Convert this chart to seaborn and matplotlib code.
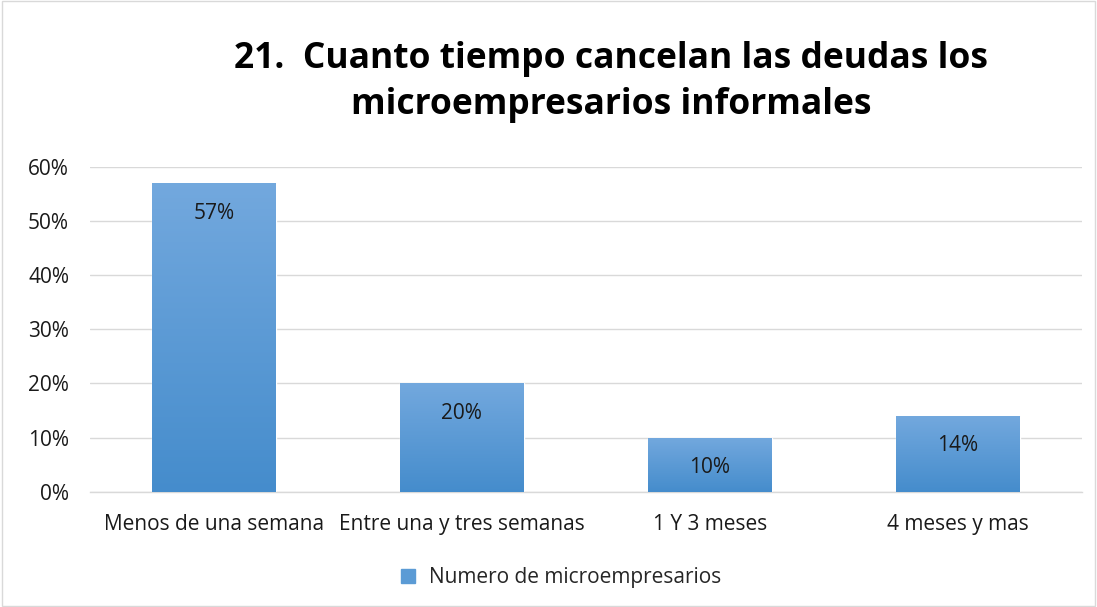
import matplotlib
matplotlib.use("Agg")
import matplotlib.pyplot as plt
import seaborn as sns
import numpy as np
import pandas as pd
from matplotlib.patches import Rectangle
from matplotlib.lines import Line2D
from matplotlib.colors import LinearSegmentedColormap

categories = ["Menos de una semana", "Entre una y tres semanas", "1 Y 3 meses", "4 meses y mas"]
values = [0.57, 0.20, 0.10, 0.14]
value_labels = ["57%", "20%", "10%", "14%"]
yticks = [0, 0.1, 0.2, 0.3, 0.4, 0.5, 0.6]
ytick_labels = ["0%", "10%", "20%", "30%", "40%", "50%", "60%"]
series_name = "Numero de microempresarios"
title = "21.  Cuanto tiempo cancelan las deudas los\nmicroempresarios informales"

sns.set_theme(style="white")
plt.rcParams['font.family'] = ['Open Sans', 'DejaVu Sans']

fig = plt.figure(figsize=(10.97, 6.07), dpi=100)
ax = fig.add_axes([0.082, 0.19, 0.904, 0.535])

df = pd.DataFrame({"cat": categories, "val": values})
sns.barplot(data=df, x="cat", y="val", ax=ax, width=0.5, color="#5B9BD5", saturation=1)

top_c = (0.45, 0.66, 0.87)
bot_c = (0.27, 0.55, 0.80)
cmap = LinearSegmentedColormap.from_list("g", [bot_c, top_c])
grad = np.linspace(0, 1, 256).reshape(-1, 1)
for p in ax.patches:
    x0, w, h = p.get_x(), p.get_width(), p.get_height()
    im = ax.imshow(grad, cmap=cmap, origin="lower", aspect="auto",
                   extent=[x0, x0 + w, 0, h], zorder=3)
    im.set_clip_path(p)
    p.set_zorder(2)

for i, (v, lab) in enumerate(zip(values, value_labels)):
    ax.annotate(lab, (i, v), xytext=(0, -30), textcoords="offset pixels",
                ha="center", va="center", fontsize=15, color="#1a1a1a", zorder=5)

ax.set_xlim(-0.5, 3.5)
ax.set_ylim(0, 0.6)
ax.set_yticks(yticks)
ax.set_yticklabels(ytick_labels, fontsize=15, color="#1a1a1a")
ax.set_xticks(range(len(categories)))
ax.set_xticklabels(categories, fontsize=15, color="#1a1a1a")
ax.tick_params(axis="x", pad=16, length=0)
ax.tick_params(axis="y", pad=15, length=0)
ax.set_xlabel("")
ax.set_ylabel("")
ax.yaxis.grid(True, color="#D9D9D9", linewidth=1)
ax.set_axisbelow(True)
for s in ["top", "right", "left"]:
    ax.spines[s].set_visible(False)
ax.spines["bottom"].set_color("#D9D9D9")
ax.spines["bottom"].set_linewidth(1)

fig.text(0.557, 0.865, title, ha="center", va="center", fontsize=25.5,
         fontweight="bold", color="#000000", linespacing=1.4)

handle = Line2D([], [], marker="s", linestyle="none", markersize=9.5,
                markerfacecolor="#5B9BD5", markeredgecolor="#5B9BD5")
fig.legend([handle], [series_name], loc="center", bbox_to_anchor=(0.505, 0.048),
           frameon=False, fontsize=15, handletextpad=0.0)

fig.patches.append(Rectangle((0.002, 0.002), 0.996, 0.996, transform=fig.transFigure,
                             fill=False, edgecolor="#D9D9D9", linewidth=1))

fig.savefig("out.png", dpi=100)
